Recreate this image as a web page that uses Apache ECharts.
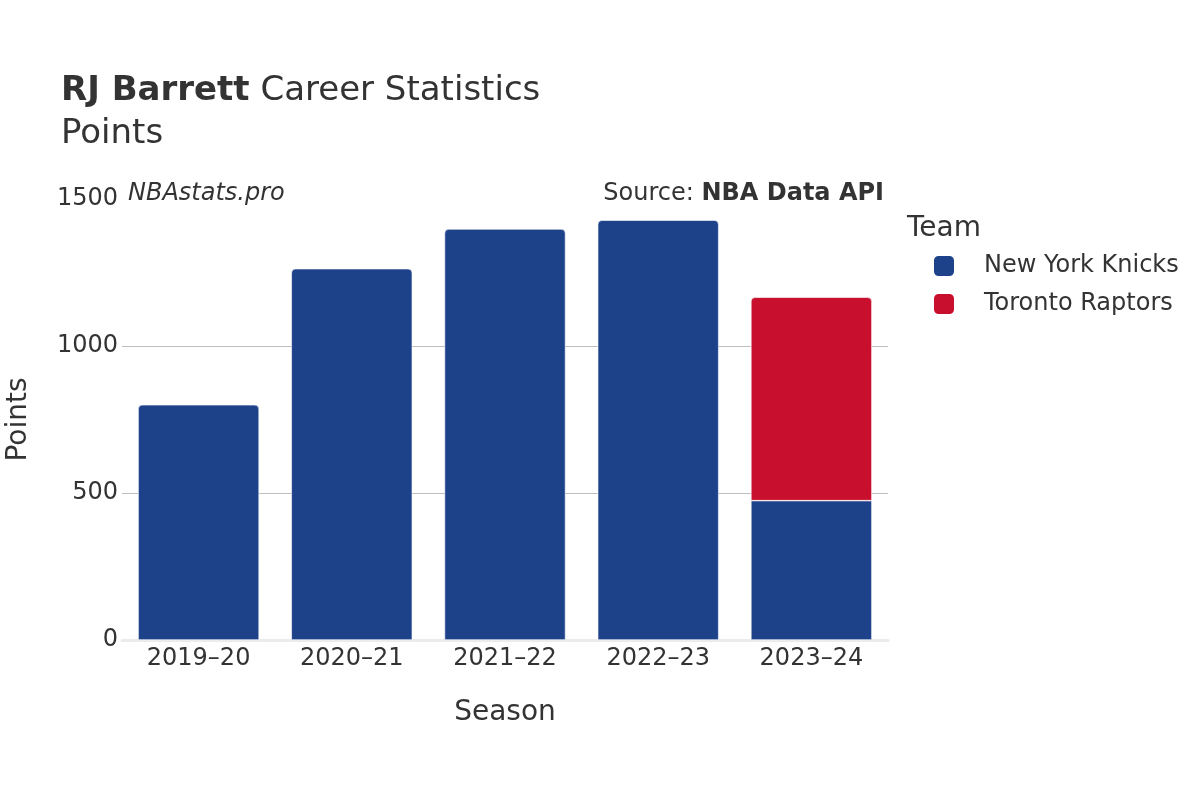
<!DOCTYPE html>
<html>
<head>
<meta charset="utf-8">
<title>RJ Barrett Career Statistics</title>
<script src="https://cdn.jsdelivr.net/npm/echarts@6/dist/echarts.min.js"></script>
<style>
	html, body { margin: 0; padding: 0; background: #fff; }
	#chart_points { width: 1200px; height: 800px; }
</style>
</head>
<body>
<div id="chart_points"></div>
<script>
	// data
	var seasons = ['2019–20', '2020–21', '2021–22', '2022–23', '2023–24'];
	var knicks_points = [800, 1263, 1398, 1428, 474];
	var raptors_points = [null, null, null, null, 692];
	var y_ticks = [0, 500, 1000, 1500];

	var font = 'DejaVu Sans, Noto Sans, sans-serif';
	var text_color = '#333333';

	var chart_points = echarts.init(document.getElementById('chart_points'));

	// top segment of each stack gets the rounded corners
	function knicks_data() {
		return knicks_points.map(function(v, i) {
			var on_top = raptors_points[i] == null;
			return {
				value: v,
				itemStyle: { borderRadius: on_top ? [4, 4, 0, 0] : 0 }
			};
		});
	}

	var option_points = {
		animation: false,
		textStyle: { fontFamily: font },
		title: [{
			text: '{b|RJ Barrett} Career Statistics',
			left: 56,
			top: 69,
			textStyle: {
				fontFamily: font,
				fontSize: 34,
				fontWeight: 'normal',
				color: text_color,
				rich: {
					b: { fontFamily: font, fontSize: 34, fontWeight: 'bold', color: text_color }
				}
			}
		}, {
			text: 'Points',
			left: 56,
			top: 112,
			textStyle: { fontFamily: font, fontSize: 34, fontWeight: 'normal', color: text_color }
		}, {
			text: 'NBAstats.pro',
			left: 123,
			top: 177,
			textStyle: { fontFamily: font, fontSize: 24, fontStyle: 'italic', fontWeight: 'normal', color: text_color }
		}, {
			text: 'Source: {b|NBA Data API}',
			right: 311,
			top: 177,
			textStyle: {
				fontFamily: font,
				fontSize: 24,
				fontWeight: 'normal',
				color: text_color,
				rich: {
					b: { fontFamily: font, fontSize: 24, fontWeight: 'bold', color: text_color }
				}
			}
		}, {
			text: 'Team',
			left: 902,
			top: 210,
			textStyle: { fontFamily: font, fontSize: 28, fontWeight: 'normal', color: text_color }
		}],
		legend: {
			orient: 'vertical',
			left: 927,
			top: 249,
			itemWidth: 22,
			itemHeight: 22,
			itemGap: 14,
			icon: 'roundRect',
			textStyle: {
				fontFamily: font,
				fontSize: 24,
				color: text_color,
				padding: [0, 0, 0, 24]
			},
			data: ['New York Knicks', 'Toronto Raptors']
		},
		grid: {
			left: 122,
			right: 312,
			top: 199,
			bottom: 160,
			containLabel: false,
			outerBoundsMode: 'none'
		},
		xAxis: {
			type: 'category',
			data: seasons,
			name: 'Season',
			nameLocation: 'middle',
			nameGap: 59,
			nameTextStyle: { fontFamily: font, fontSize: 28, color: text_color },
			axisLine: { show: true, lineStyle: { color: '#ebebeb', width: 3 } },
			axisTick: { show: false },
			axisLabel: { fontFamily: font, fontSize: 24, color: text_color, margin: 7 }
		},
		yAxis: {
			type: 'value',
			min: y_ticks[0],
			max: y_ticks[y_ticks.length - 1],
			interval: 500,
			name: 'Points',
			nameLocation: 'middle',
			nameGap: 89,
			nameRotate: 90,
			nameTextStyle: { fontFamily: font, fontSize: 28, color: text_color },
			axisLine: { show: false },
			axisTick: { show: false },
			axisLabel: {
				fontFamily: font,
				fontSize: 24,
				color: text_color,
				margin: 4,
				padding: [8, 0, 0, 0],
				formatter: function(v) { return String(v); }
			},
			splitLine: {
				show: true,
				showMinLine: false,
				showMaxLine: false,
				lineStyle: { color: '#bdbdbd', width: 1 }
			}
		},
		series: [{
			name: 'New York Knicks',
			type: 'bar',
			stack: 'team',
			barCategoryGap: '21%',
			itemStyle: { color: '#1d428a', borderColor: '#ffffff', borderWidth: 0.6 },
			data: knicks_data()
		}, {
			name: 'Toronto Raptors',
			type: 'bar',
			stack: 'team',
			barCategoryGap: '21%',
			itemStyle: { color: '#c8102e', borderColor: '#ffffff', borderWidth: 0.6, borderRadius: [4, 4, 0, 0] },
			data: raptors_points
		}]
	};
	chart_points.setOption(option_points);
</script>
</body>
</html>
